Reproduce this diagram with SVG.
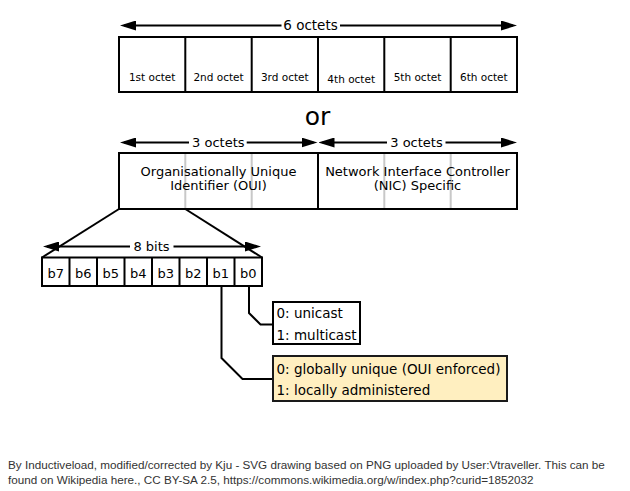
<svg xmlns="http://www.w3.org/2000/svg" width="630" height="491" viewBox="0 0 630 491">
<defs>
<marker id="ah" markerUnits="userSpaceOnUse" markerWidth="16" markerHeight="10" refX="12" refY="5" orient="auto-start-reverse">
<path d="M0,0 L16,5 L0,10 z" fill="#000"/>
</marker>
<style>
.t{font-family:"DejaVu Sans",Verdana,sans-serif;fill:#000}
.box{fill:#fff;stroke:#000;stroke-width:2}
.div{stroke:#000;stroke-width:2;fill:none}
.gdiv{stroke:#c8c8c8;stroke-width:2;fill:none}
.ln{stroke:#000;stroke-width:2;fill:none}
.arr{stroke:#000;stroke-width:2;fill:none}
.arrs{marker-start:url(#ah)}
.arre{marker-end:url(#ah)}
.oct{font-size:10.5px;text-anchor:middle}
.lbl{font-size:13px;text-anchor:middle}
.bit{font-size:13px;text-anchor:middle}
.opt{font-size:13.5px}
.yel{fill:#ffefc0;stroke:#1a1a1a;stroke-width:2}
.foot{font-family:"Liberation Sans",Arial,sans-serif;font-size:11.7px;fill:#333}
</style>
</defs>
<rect width="630" height="491" fill="#fff"/>

<g id="connectors">
<path class="arr arrs" d="M124,25.5 H281.5"/>
<path class="arr arre" d="M340,25.5 H513"/>
<path class="arr arrs" d="M124,142.5 H189"/>
<path class="arr arre" d="M246.7,142.5 H313.5"/>
<path class="arr arrs" d="M322.5,142.5 H387"/>
<path class="arr arre" d="M445.5,142.5 H513"/>
<path class="ln" d="M119,209 L42,257.5"/>
<path class="ln" d="M185.3,209 L262,257.5"/>
<path class="arr arrs" d="M47,246.5 H130"/>
<path class="arr arre" d="M173.5,246.5 H257"/>
<path class="ln" d="M249,286 V313 L260.5,324.5 H273"/>
<path class="ln" d="M221.5,286 V358 L242.5,379 H273"/>
</g>

<g id="label-6octets"><text class="t lbl" x="310.5" y="30" style="font-size:13.5px">6 octets</text></g>

<g id="row-6-octets">
<rect class="box" x="119" y="37" width="398" height="55"/>
<path class="div" d="M185.3,37 V92 M251.7,37 V92 M318,37 V92 M384.3,37 V92 M450.7,37 V92"/>
<text class="t oct" x="152.2" y="81">1st octet</text>
<text class="t oct" x="218.5" y="81">2nd octet</text>
<text class="t oct" x="284.8" y="81">3rd octet</text>
<text class="t oct" x="351.2" y="83">4th octet</text>
<text class="t oct" x="417.5" y="81">5th octet</text>
<text class="t oct" x="483.8" y="81">6th octet</text>
</g>

<g id="or"><text class="t" x="317.5" y="125" style="font-size:25px;text-anchor:middle">or</text></g>

<g id="label-3octets">
<text class="t lbl" x="218.3" y="147">3 octets</text>
<text class="t lbl" x="416.5" y="147">3 octets</text>
</g>

<g id="row-oui-nic">
<rect class="box" x="119" y="153" width="398" height="56"/>
<path class="gdiv" d="M185.3,154 V208 M251.7,154 V208 M384.3,154 V208 M450.7,154 V208"/>
<rect x="119" y="153" width="398" height="56" fill="none" stroke="#000" stroke-width="2"/>
<path class="div" d="M318,153 V209"/>
<text class="t lbl" x="218.5" y="176">Organisationally Unique</text>
<text class="t lbl" x="218.5" y="189.5">Identifier (OUI)</text>
<text class="t lbl" x="417.5" y="176">Network Interface Controller</text>
<text class="t lbl" x="417.5" y="189.5">(NIC) Specific</text>
</g>

<g id="label-8bits"><text class="t lbl" x="151.5" y="251">8 bits</text></g>

<g id="row-bits">
<rect class="box" x="42" y="257.5" width="220" height="28.5"/>
<path class="div" d="M69.5,257.5 V286 M97,257.5 V286 M124.5,257.5 V286 M152,257.5 V286 M179.5,257.5 V286 M207,257.5 V286 M234.5,257.5 V286"/>
<text class="t bit" x="55.75" y="278">b7</text>
<text class="t bit" x="83.25" y="278">b6</text>
<text class="t bit" x="110.75" y="278">b5</text>
<text class="t bit" x="138.25" y="278">b4</text>
<text class="t bit" x="165.75" y="278">b3</text>
<text class="t bit" x="193.25" y="278">b2</text>
<text class="t bit" x="220.75" y="278">b1</text>
<text class="t bit" x="248.25" y="278">b0</text>
</g>

<g id="node-unicast">
<rect class="box" x="273" y="302" width="87" height="42"/>
<text class="t opt" x="276.5" y="318">0: unicast</text>
<text class="t opt" x="276.5" y="339.5">1: multicast</text>
</g>

<g id="node-global">
<rect class="yel" x="273" y="356" width="234" height="45"/>
<text class="t opt" x="276.5" y="374">0: globally unique (OUI enforced)</text>
<text class="t opt" x="276.5" y="395">1: locally administered</text>
</g>

<g id="credit">
<text class="foot" x="8" y="469">By Inductiveload, modified/corrected by Kju - SVG drawing based on PNG uploaded by User:Vtraveller. This can be</text>
<text class="foot" x="8" y="484">found on Wikipedia here., CC BY-SA 2.5, https://commons.wikimedia.org/w/index.php?curid=1852032</text>
</g>
</svg>
